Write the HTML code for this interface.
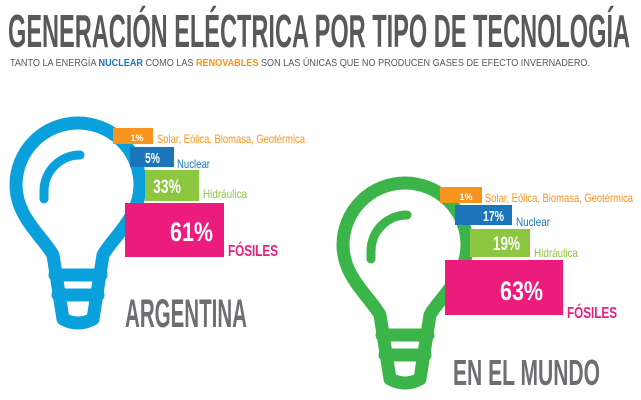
<!DOCTYPE html>
<html><head><meta charset="utf-8"><style>
html,body{margin:0;padding:0;background:#fff;}
svg{display:block;font-family:"Liberation Sans Narrow","Liberation Sans",sans-serif;}
</style></head><body>
<svg width="641" height="400" viewBox="0 0 641 400" xmlns="http://www.w3.org/2000/svg">
<text x="8" y="47" font-size="46" font-weight="bold" fill="#58595b" textLength="622" lengthAdjust="spacingAndGlyphs">GENERACIÓN ELÉCTRICA POR TIPO DE TECNOLOGÍA</text>
<text x="10" y="66" font-size="10.5" fill="#58595b" textLength="580" lengthAdjust="spacingAndGlyphs">TANTO LA ENERGÍA <tspan fill="#1b75bb" font-weight="bold">NUCLEAR</tspan> COMO LAS <tspan fill="#f7941d" font-weight="bold">RENOVABLES</tspan> SON LAS ÚNICAS QUE NO PRODUCEN GASES DE EFECTO INVERNADERO.</text>

<defs>
<g id="bulb" fill="none" stroke-width="13" stroke-linecap="round" stroke-linejoin="round">
<path d="M -25 68 C -35 50 -62 30 -62 -2 A 62 62 0 0 1 62 -2 C 62 30 35 50 25 68 L 15 132 Q 0 140 -15 132 Z"/>
<path d="M -23 88 L 23 88 M -20 108 L 20 108"/>
<path d="M -34 12 L -34 4 A 36 36 0 0 1 2 -32" stroke-width="9"/>
</g>
</defs>

<!-- Argentina -->
<use href="#bulb" x="78" y="187" stroke="#0aa0dc"/>
<rect x="113" y="128" width="40" height="16" fill="#f7941d"/>
<text x="137" y="141" font-size="9" font-weight="bold" fill="#fff" text-anchor="middle">1%</text>
<text x="157" y="143" font-size="12" fill="#f7941d" textLength="148" lengthAdjust="spacingAndGlyphs">Solar, Eólica, Biomasa, Geotérmica</text>
<rect x="130" y="147" width="44" height="20" fill="#1b75bb"/>
<text x="145" y="163" font-size="15" font-weight="bold" fill="#fff" textLength="15" lengthAdjust="spacingAndGlyphs">5%</text>
<text x="177" y="168" font-size="12" fill="#1b75bb" textLength="33" lengthAdjust="spacingAndGlyphs">Nuclear</text>
<rect x="145" y="170" width="54" height="31" fill="#8dc63f"/>
<text x="153" y="193" font-size="19" font-weight="bold" fill="#fff" textLength="28" lengthAdjust="spacingAndGlyphs">33%</text>
<text x="203" y="198" font-size="12" fill="#8dc63f" textLength="44" lengthAdjust="spacingAndGlyphs">Hidráulica</text>
<rect x="125" y="203" width="99" height="54" fill="#ec1c7c"/>
<text x="170" y="241" font-size="27" font-weight="bold" fill="#fff" textLength="43" lengthAdjust="spacingAndGlyphs">61%</text>
<text x="228" y="256" font-size="16" font-weight="bold" fill="#ec1c7c" textLength="50" lengthAdjust="spacingAndGlyphs">FÓSILES</text>
<text x="125" y="327" font-size="40" font-weight="bold" fill="#6d6e71" textLength="122" lengthAdjust="spacingAndGlyphs">ARGENTINA</text>

<!-- Mundo -->
<use href="#bulb" x="405" y="247" stroke="#3bb54a"/>
<rect x="440" y="187" width="42" height="16" fill="#f7941d"/>
<text x="466" y="200" font-size="9" font-weight="bold" fill="#fff" text-anchor="middle">1%</text>
<text x="485" y="202" font-size="12" fill="#f7941d" textLength="148" lengthAdjust="spacingAndGlyphs">Solar, Eólica, Biomasa, Geotérmica</text>
<rect x="455" y="205" width="57" height="20" fill="#1b75bb"/>
<text x="483" y="221" font-size="15" font-weight="bold" fill="#fff" textLength="21" lengthAdjust="spacingAndGlyphs">17%</text>
<text x="516" y="226" font-size="12" fill="#1b75bb" textLength="34" lengthAdjust="spacingAndGlyphs">Nuclear</text>
<rect x="470" y="229" width="60" height="28" fill="#8dc63f"/>
<text x="493" y="250" font-size="19" font-weight="bold" fill="#fff" textLength="27" lengthAdjust="spacingAndGlyphs">19%</text>
<text x="534" y="257" font-size="12" fill="#8dc63f" textLength="44" lengthAdjust="spacingAndGlyphs">Hidráulica</text>
<rect x="445" y="260" width="118" height="55" fill="#ec1c7c"/>
<text x="500" y="300" font-size="27" font-weight="bold" fill="#fff" textLength="43" lengthAdjust="spacingAndGlyphs">63%</text>
<text x="567" y="318" font-size="16" font-weight="bold" fill="#ec1c7c" textLength="50" lengthAdjust="spacingAndGlyphs">FÓSILES</text>
<text x="453" y="385" font-size="36" font-weight="bold" fill="#6d6e71" textLength="147" lengthAdjust="spacingAndGlyphs">EN EL MUNDO</text>
</svg>
</body></html>
